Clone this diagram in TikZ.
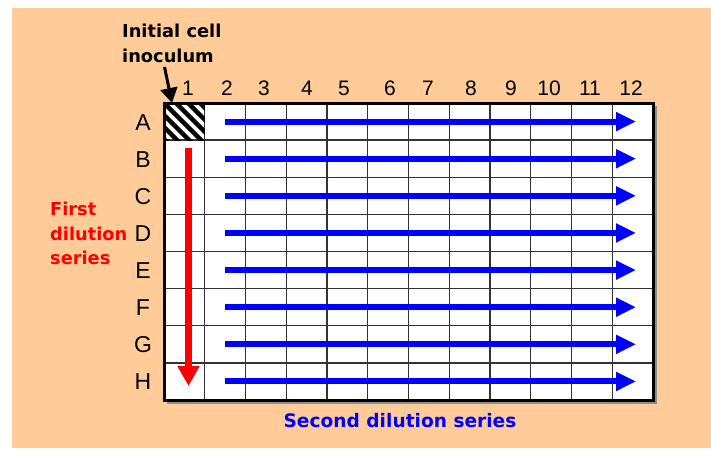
\documentclass[tikz,border=0pt]{standalone}
\usepackage{fontspec}
\setmainfont{Liberation Sans}
\newfontfamily\notefont{DejaVu Sans}
\usetikzlibrary{arrows.meta}
\definecolor{peach}{HTML}{FFCC99}
\definecolor{seriesblue}{HTML}{0000FF}
\definecolor{seriesred}{HTML}{FF0000}

\begin{document}
\begin{tikzpicture}[
        x=1pt, y=-1pt,
        collabel/.style={font=\fontsize{21}{21}\selectfont, anchor=base, inner sep=0pt},
        rowlabel/.style={font=\fontsize{23}{23}\selectfont, anchor=base, inner sep=0pt},
        note/.style={font=\notefont\bfseries\fontsize{17.8}{24.5}\selectfont,
                     align=left, anchor=north west, inner sep=0pt},
        gridline/.style={draw=black!80, line width=1.3pt},
        hatch/.style={line width=4.5pt},
        rowarrow/.style={seriesblue, line width=6pt, -{Triangle[length=20pt, width=18pt]}},
        colarrow/.style={seriesred, line width=7.5pt, -{Triangle[length=20pt, width=21pt]}},
        pointer/.style={line width=3pt, -{Triangle[length=15pt, width=17pt]}}
    ]

    \useasboundingbox (0,0) rectangle (711,450);
    \fill[peach] (12,8) rectangle (711,448);

    % Placa de 96 pozos
    \fill[white] (164,103) rectangle (653,400);
    \foreach \i in {1,...,11}
        \draw[gridline] (164+40.75*\i,103) -- ++(0,297);
    \foreach \k in {1,...,7}
        \draw[gridline] (164,103+37.125*\k) -- ++(489,0);

    % Pozo A1 (inoculo)
    \begin{scope}
        \clip (164,103) rectangle (204.75,140.125);
        \foreach \s in {-48,-36,...,36}
            \draw[hatch] (164+\s,103) -- ++(45,45);
    \end{scope}

    \draw[black!45, line width=1.5pt] (656,106) -- (656,403) -- (167,403);
    \draw[line width=3pt] (164,103) rectangle (653,400);

    % Etiquetas de columnas y filas
    \foreach \x [count=\i] in {188,227,264,307,344,390,428,471,511,549,590,631}
        \node[collabel] (col\i) at (\x, 95) {\i};
    \foreach \r [count=\k] in {A,B,C,D,E,F,G,H}
        \node[rowlabel] (row\r) at (143, 103+37.125*\k-18.56+8.5) {\r};

    % Segunda serie de dilucion
    \foreach \k in {1,...,8} {
        \coordinate (rs\k) at (225, 103+37.125*\k-18.56);
        \coordinate (re\k) at (636, 103+37.125*\k-18.56);
        \draw[rowarrow] (rs\k) -- (re\k);
    }

    % Primera serie de dilucion
    \coordinate (cs) at (188.5,148);
    \coordinate (ce) at (188.5,386);
    \draw[colarrow] (cs) -- (ce);

    % Textos
    \node[note] (inoc) at (122,24) {Initial cell\\inoculum};
    \coordinate (inoctail) at (164.5,67);
    \coordinate (inochead) at (172,103);
    \draw[pointer] (inoctail) -- (inochead);

    \node[note, text=seriesred] (first) at (50,202) {First\\dilution\\series};
    \node[note, text=seriesblue, anchor=base,
          font=\notefont\bfseries\fontsize{18.6}{24.5}\selectfont] (second) at (400,427) {Second dilution series};

\end{tikzpicture}
\end{document}
